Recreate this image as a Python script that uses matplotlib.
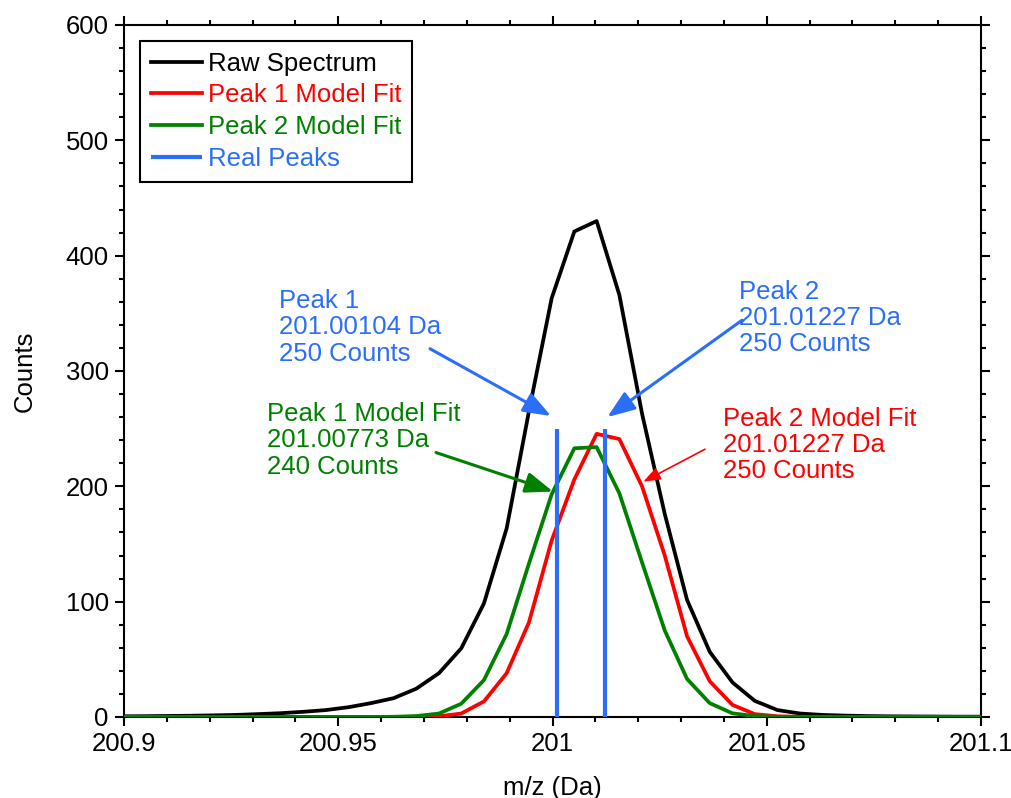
import matplotlib
matplotlib.use("Agg")
import matplotlib.pyplot as plt
from matplotlib.ticker import MultipleLocator, FuncFormatter

plt.rcParams['font.family'] = ['Liberation Sans', 'DejaVu Sans']

# Sampled m/z grid of the spectrum (Da)
mz = [200.8997, 200.9049, 200.9102, 200.9155, 200.9208, 200.9260, 200.9313,
      200.9366, 200.9418, 200.9471, 200.9524, 200.9576, 200.9629, 200.9682,
      200.9735, 200.9787, 200.9840, 200.9893, 200.9945, 200.9998, 201.0051,
      201.0103, 201.0156, 201.0209, 201.0262, 201.0314, 201.0367, 201.0420,
      201.0472, 201.0525, 201.0578, 201.0630, 201.0683, 201.0736, 201.0789,
      201.0841, 201.0894, 201.0947, 201.0999, 201.1052]

raw_counts = [0.6, 0.7, 0.9, 1.1, 1.4, 1.8, 2.5, 3.3, 4.5, 6.0, 8.5, 12.0,
              16.3, 24.5, 38.0, 59.5, 98.5, 163.5, 265.0, 363.0, 421.0,
              430.0, 366.0, 263.0, 176.0, 101.5, 56.5, 30.0, 14.0, 6.0,
              3.0, 1.8, 1.2, 0.8, 0.6, 0.5, 0.4, 0.3, 0.3, 0.3]

fit1_counts = [0, 0, 0, 0, 0, 0, 0, 0, 0, 0, 0, 0, 0.05, 0.2, 0.6, 3.0,
               13.5, 38.0, 82.0, 153.0, 206.0, 245.5, 241.0, 200.0, 140.0,
               70.0, 31.0, 10.5, 2.5, 0.6, 0.15, 0.05, 0, 0, 0, 0, 0, 0, 0, 0]

fit2_counts = [0, 0, 0, 0, 0, 0, 0, 0, 0, 0, 0, 0.05, 0.2, 0.8, 3.0, 11.5,
               32.0, 72.0, 133.0, 193.0, 233.0, 234.0, 194.0, 134.0, 75.0,
               33.0, 12.0, 3.2, 0.8, 0.2, 0.05, 0, 0, 0, 0, 0, 0, 0, 0, 0]

real_peak_mz = [201.00104, 201.01227]
real_peak_counts = [250, 250]

BLUE = '#2A6EFA'
RED = '#FF0000'
GREEN = '#008000'
FS = 18.5

fig = plt.figure(figsize=(10.11, 7.98), dpi=100)
ax = fig.add_axes([124 / 1011, 1 - 717 / 798, (981 - 124) / 1011, (717 - 25) / 798])

ax.plot(mz, raw_counts, color='black', lw=2.7, label='Raw Spectrum', zorder=3)
ax.plot(mz, fit1_counts, color=RED, lw=2.7, label='Peak 1 Model Fit', zorder=4)
ax.plot(mz, fit2_counts, color=GREEN, lw=2.7, label='Peak 2 Model Fit', zorder=5)
ax.vlines(real_peak_mz, 0, real_peak_counts, color=BLUE, lw=3.0,
          label='Real Peaks', zorder=6)

ax.set_xlim(200.9, 201.1)
ax.set_ylim(0, 600)

ax.xaxis.set_major_locator(MultipleLocator(0.05))
ax.xaxis.set_minor_locator(MultipleLocator(0.01))
ax.yaxis.set_major_locator(MultipleLocator(100))
ax.yaxis.set_minor_locator(MultipleLocator(20))
ax.xaxis.set_major_formatter(FuncFormatter(lambda v, p: f'{v:g}'))

ax.tick_params(which='both', direction='out', top=True, right=True,
               width=1.5, labelsize=FS)
ax.tick_params(which='major', length=6.5, pad=4.5)
ax.tick_params(which='minor', length=3.6)
for s in ax.spines.values():
    s.set_linewidth(1.5)

ax.set_xlabel('m/z (Da)', fontsize=FS, labelpad=14)
ax.set_ylabel('Counts', fontsize=FS, labelpad=21)

leg = ax.legend(loc='upper left', fontsize=FS, frameon=True, fancybox=False,
                edgecolor='black', framealpha=1, handlelength=2.0,
                handletextpad=0.22, labelspacing=0.3, borderpad=0.42,
                borderaxespad=0.62)
leg.get_frame().set_linewidth(1.5)
for txt, col in zip(leg.get_texts(), ['black', RED, GREEN, BLUE]):
    txt.set_color(col)

# Annotations: text blocks and arrows pointing at the peaks
text_kw = dict(fontsize=FS, ha='left', va='top', linespacing=1.12)
ax.text(200.93617, 371, 'Peak 1\n201.00104 Da\n250 Counts', color=BLUE, **text_kw)
ax.text(201.04352, 379, 'Peak 2\n201.01227 Da\n250 Counts', color=BLUE, **text_kw)
ax.text(200.93330, 273, 'Peak 1 Model Fit\n201.00773 Da\n240 Counts', color=GREEN, **text_kw)
ax.text(201.03979, 269, 'Peak 2 Model Fit\n201.01227 Da\n250 Counts', color=RED, **text_kw)

def arrow(tip, start, color, lw, scale):
    ax.annotate('', xy=tip, xytext=start,
                arrowprops=dict(arrowstyle='-|>,head_length=0.8,head_width=0.3',
                                color=color, lw=lw, mutation_scale=scale,
                                shrinkA=0, shrinkB=0), zorder=7)

arrow((200.99965, 261), (200.97141, 319.3), BLUE, 2.2, 21)
arrow((201.01279, 260), (201.04422, 344), BLUE, 2.2, 21)
arrow((201.00012, 195.5), (200.97281, 229.3), GREEN, 2.2, 21)
arrow((201.02119, 204), (201.03559, 232.2), RED, 1.2, 13)

fig.savefig('out.png', dpi=100)
